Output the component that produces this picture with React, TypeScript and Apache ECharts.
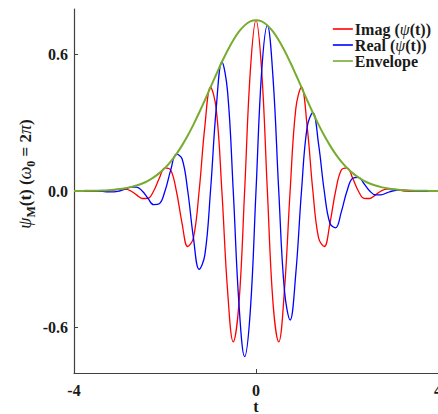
import React, { useEffect, useRef } from "react";
import * as echarts from "echarts";

const tValues = [
  -4, -3.875, -3.75, -3.625, -3.5, -3.375, -3.25, -3.125, -3, -2.875, -2.75, -2.625, -2.5, -2.375, -2.25, -2.125,
  -2, -1.875, -1.75, -1.625, -1.5, -1.375, -1.25, -1.125, -1, -0.875, -0.75, -0.625, -0.5, -0.375, -0.25, -0.125,
  0, 0.125, 0.25, 0.375, 0.5, 0.625, 0.75, 0.875, 1, 1.125, 1.25, 1.375, 1.5, 1.625, 1.75, 1.875,
  2, 2.125, 2.25, 2.375, 2.5, 2.625, 2.75, 2.875, 3, 3.125, 3.25, 3.375, 3.5, 3.625, 3.75, 3.875, 4,
];

const imagValues = [
  0, 0, 0, -0.001, -0.002, -0.002, 0, 0.004, 0.008, 0.008, 0, -0.017, -0.033, -0.032, 0, 0.056,
  0.102, 0.092, 0, -0.142, -0.244, -0.206, 0, 0.282, 0.456, 0.362, 0, -0.437, -0.663, -0.495, 0, 0.527,
  0.751, 0.527, 0, -0.495, -0.663, -0.437, 0, 0.362, 0.456, 0.282, 0, -0.206, -0.244, -0.142, 0, 0.092,
  0.102, 0.056, 0, -0.032, -0.033, -0.017, 0, 0.008, 0.008, 0.004, 0, -0.002, -0.002, -0.001, 0, 0, 0,
];

const realValues = [
  0, 0, 0.001, 0.001, 0, -0.002, -0.004, -0.004, 0, 0.008, 0.017, 0.017, 0, -0.032, -0.06, -0.056,
  0, 0.092, 0.162, 0.142, 0, -0.206, -0.344, -0.282, 0, 0.362, 0.567, 0.437, 0, -0.495, -0.728, -0.527,
  0, 0.527, 0.728, 0.495, 0, -0.437, -0.567, -0.362, 0, 0.282, 0.344, 0.206, 0, -0.142, -0.162, -0.092,
  0, 0.056, 0.06, 0.032, 0, -0.017, -0.017, -0.008, 0, 0.004, 0.004, 0.002, 0, -0.001, -0.001, 0, 0,
];

const envelopeValues = [
  0.0003, 0.0004, 0.0007, 0.0011, 0.0016, 0.0025, 0.0038, 0.0057, 0.0083, 0.012, 0.0171, 0.024, 0.033, 0.0448, 0.0598, 0.0786,
  0.1017, 0.1295, 0.1624, 0.2006, 0.2438, 0.2919, 0.3439, 0.3989, 0.4556, 0.5122, 0.567, 0.6178, 0.6629, 0.7001, 0.728, 0.7453,
  0.751, 0.7453, 0.728, 0.7001, 0.6629, 0.6178, 0.567, 0.5122, 0.4556, 0.3989, 0.3439, 0.2919, 0.2438, 0.2006, 0.1624, 0.1295,
  0.1017, 0.0786, 0.0598, 0.0448, 0.033, 0.024, 0.0171, 0.012, 0.0083, 0.0057, 0.0038, 0.0025, 0.0016, 0.0011, 0.0007, 0.0004, 0.0003,
];

const seriesNames = ["Imag", "Real", "Envelope"];
const xTicks = [-4, 0, 4];
const yTicks = [-0.6, 0, 0.6];

const FONT = "'Liberation Serif', 'Times New Roman', serif";
const TEXT = "#1a1a1a";
const AXIS = "#404040";

export default function App() {
  const ref = useRef<HTMLDivElement>(null);
  useEffect(() => {
    if (!ref.current) return;
    const chart = echarts.init(ref.current, null, { renderer: "svg", width: 438, height: 414 });
    const pair = (vals: number[]) => tValues.map((t, i) => [t, vals[i]]);
    const legendLabel: Record<string, string> = {
      Imag: "{b|Imag (}{i|ψ}{b|(t))}",
      Real: "{b|Real (}{i|ψ}{b|(t))}",
      Envelope: "{b|Envelope}",
    };
    chart.setOption({
      animation: false,
      backgroundColor: "#fff",
      grid: { left: 74, right: 0, top: 9, bottom: 41, containLabel: false, outerBoundsMode: "none" },
      legend: {
        orient: "vertical",
        right: 2,
        top: 16,
        icon: "rect",
        itemWidth: 20,
        itemHeight: 1.6,
        itemGap: 0,
        data: seriesNames,
        formatter: (n: string) => legendLabel[n],
        textStyle: {
          padding: [0, 0, 0, -3],
          rich: {
            b: { fontFamily: FONT, fontWeight: "bold", fontSize: 16, color: TEXT, lineHeight: 18 },
            i: { fontFamily: FONT, fontStyle: "italic", fontSize: 16, color: TEXT, lineHeight: 18 },
          },
        },
      },
      xAxis: {
        type: "value",
        min: -4,
        max: 4,
        interval: 4,
        name: "t",
        nameLocation: "middle",
        nameGap: 25,
        nameMoveOverlap: false,
        nameTextStyle: { fontFamily: FONT, fontWeight: "bold", fontSize: 16, color: TEXT },
        axisLine: { show: true, onZero: false, lineStyle: { color: AXIS, width: 1.2 } },
        axisTick: { show: true, inside: true, length: 4, lineStyle: { color: AXIS }, customValues: xTicks },
        axisLabel: {
          customValues: xTicks,
          fontFamily: FONT,
          fontWeight: "bold",
          fontSize: 16,
          color: TEXT,
          margin: 9,
          formatter: (v: number) => String(v),
        },
        splitLine: { show: false },
      },
      yAxis: {
        type: "value",
        min: -0.8,
        max: 0.8,
        axisLine: { show: true, onZero: false, lineStyle: { color: AXIS, width: 1.2 } },
        axisTick: { show: true, inside: true, length: 4, lineStyle: { color: AXIS }, customValues: yTicks },
        axisLabel: {
          customValues: yTicks,
          fontFamily: FONT,
          fontWeight: "bold",
          fontSize: 16,
          color: TEXT,
          margin: 6,
          formatter: (v: number) => v.toFixed(1),
        },
        splitLine: { show: false },
      },
      graphic: [
        {
          type: "text",
          x: 25,
          y: 174,
          rotation: Math.PI / 2,
          style: {
            text: "{i|ψ}{s|M}{b|(t) (}{i|ω}{s|0}{b| = 2}{i|π}{b|)}",
            align: "center",
            verticalAlign: "middle",
            rich: {
              b: { fontFamily: FONT, fontWeight: "bold", fontSize: 17, fill: TEXT, lineHeight: 24 },
              i: { fontFamily: FONT, fontStyle: "italic", fontSize: 18, fill: TEXT, lineHeight: 24 },
              s: { fontFamily: FONT, fontWeight: "bold", fontSize: 12, fill: TEXT, verticalAlign: "bottom", lineHeight: 24 },
            },
          },
        },
      ],
      series: [
        {
          name: "Imag",
          type: "line",
          data: pair(imagValues),
          smooth: 0.4,
          symbol: "none",
          lineStyle: { color: "#ff0000", width: 1.3 },
          itemStyle: { color: "#ff0000" },
        },
        {
          name: "Real",
          type: "line",
          data: pair(realValues),
          smooth: 0.4,
          symbol: "none",
          lineStyle: { color: "#0000ff", width: 1.3 },
          itemStyle: { color: "#0000ff" },
        },
        {
          name: "Envelope",
          type: "line",
          data: pair(envelopeValues),
          smooth: 0.4,
          symbol: "none",
          lineStyle: { color: "#77ac30", width: 2 },
          itemStyle: { color: "#77ac30" },
        },
      ],
    });
    return () => chart.dispose();
  }, []);
  return <div ref={ref} style={{ width: 438, height: 414, position: "absolute", left: 0, top: 0 }} />;
}
